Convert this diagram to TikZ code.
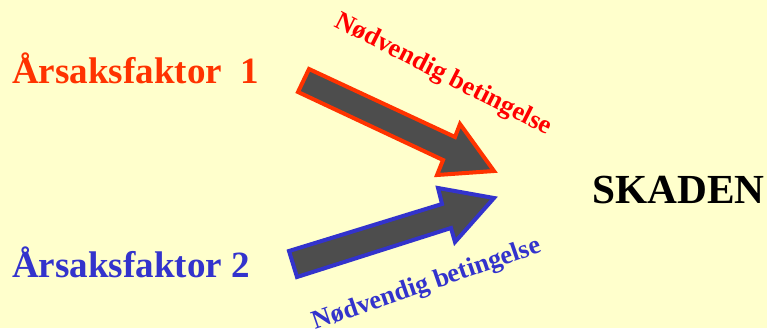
\documentclass[tikz,border=0pt]{standalone}
\usepackage{fontspec}
\setmainfont{Liberation Serif}
\definecolor{bgyellow}{HTML}{FFFFCC}
\definecolor{redorange}{HTML}{FF3300}
\definecolor{labelred}{HTML}{FF0000}
\definecolor{darkblue}{HTML}{3333CC}
\definecolor{arrowfill}{HTML}{4D4D4D}
\tikzset{
  bigtext/.style={font=\fontsize{37.2}{41}\selectfont\bfseries, inner sep=0pt, anchor=base west},
  labeltext/.style={font=\fontsize{26.5}{30}\selectfont\bfseries, inner sep=0pt, anchor=center},
  bigarrow/.style={fill=arrowfill, line width=4bp, line join=miter},
}
\begin{document}
\begin{tikzpicture}[x=1bp,y=-1bp]
\fill[bgyellow] (0,0) rectangle (767,328);
\useasboundingbox (0,0) rectangle (767,328);
% red arrow
\draw[bigarrow, draw=redorange] (309,69) -- (455,137) -- (460,124) -- (494,171) -- (437,175) -- (443,160) -- (298,92) -- cycle;
% blue arrow
\draw[bigarrow, draw=darkblue] (289,251) -- (442,204) -- (438,188) -- (494,198) -- (455,242) -- (451,228) -- (297,277) -- cycle;
\node[bigtext, text=redorange] (f1) at (12,83) {Årsaksfaktor\ \ 1};
\node[bigtext, text=darkblue] (f2) at (12,277) {Årsaksfaktor 2};
\node[bigtext, text=black, font=\fontsize{41.5}{45}\selectfont\bfseries] (sk) at (592,203) {SKADEN};
\node[labeltext, text=labelred, rotate=-27] (l1) at (443,75) {Nødvendig betingelse};
\node[labeltext, text=darkblue, rotate=19] (l2) at (427,285) {Nødvendig betingelse};
\end{tikzpicture}
\end{document}
